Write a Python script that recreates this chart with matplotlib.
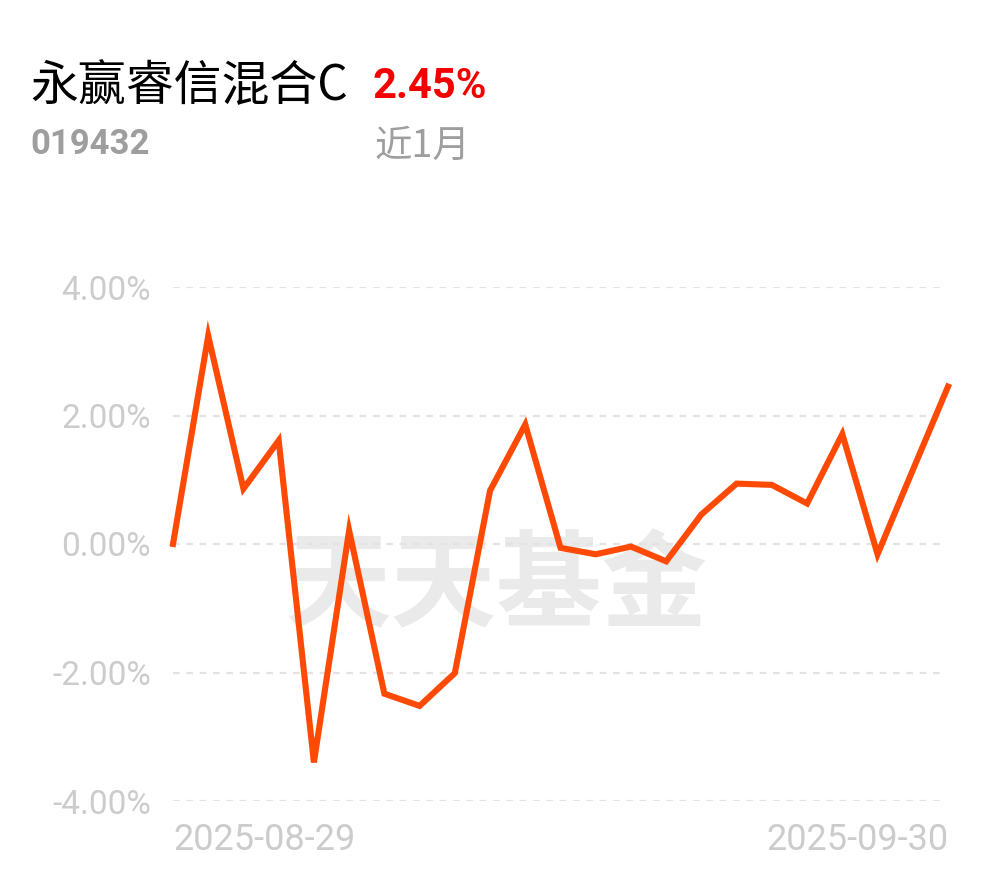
import matplotlib
matplotlib.use("Agg")
import matplotlib.pyplot as plt

# ---- data ----
dates = ["2025-08-29", "2025-09-01", "2025-09-02", "2025-09-03", "2025-09-04", "2025-09-05",
         "2025-09-08", "2025-09-09", "2025-09-10", "2025-09-11", "2025-09-12",
         "2025-09-15", "2025-09-16", "2025-09-17", "2025-09-18", "2025-09-19",
         "2025-09-22", "2025-09-23", "2025-09-24", "2025-09-25", "2025-09-26",
         "2025-09-29", "2025-09-30"]
returns = [0.00, 3.24, 0.86, 1.61, -3.40, 0.21, -2.33, -2.52, -2.01, 0.83, 1.86,
           -0.06, -0.16, -0.04, -0.27, 0.46, 0.94, 0.92, 0.63, 1.71, -0.16, 1.15, 2.45]
y_ticks = [4, 2, 0, -2, -4]
y_labels = ["4.00%", "2.00%", "0.00%", "-2.00%", "-4.00%"]
fund_name = "永赢睿信混合C"
fund_code = "019432"
period_return = "2.45%"
period_label = "近1月"

W, H = 994, 876
fig = plt.figure(figsize=(W / 100, H / 100), dpi=100)
fig.patch.set_facecolor("white")

ax = fig.add_axes([173 / W, 1 - 801 / H, (948 - 173) / W, (801 - 287) / H])
x = list(range(len(returns)))
ax.set_xlim(0, len(returns) - 1)
ax.set_ylim(-4, 4)

for t in y_ticks:
    ax.axhline(t, color="#e3e3e3", lw=1.6, ls=(0, (3, 3)), zorder=1, xmax=0.998)
ax.set_yticks(y_ticks)
ax.set_yticklabels(y_labels)
ax.tick_params(axis="y", length=0, pad=16, labelsize=24, labelcolor="#cccccc")
for lab in ax.get_yticklabels():
    lab.set_family("Roboto")

# watermark (behind the line)
ax.text(497 / W, 1 - 588 / H, "天天基金", ha="center", va="center", fontsize=76,
        color="#eaeaea", family=["Noto Sans CJK SC"], fontweight="bold", zorder=0,
        transform=fig.transFigure)

ax.plot(x, returns, color="#ff4a05", lw=4.4, solid_joinstyle="miter", zorder=3, clip_on=False)

for s in ax.spines.values():
    s.set_visible(False)
ax.set_xticks([])
ax.patch.set_alpha(0)

fig.text(173 / W, 1 - 840 / H, dates[0], ha="left", va="center", fontsize=26,
         color="#cccccc", family="Roboto")
fig.text(948 / W, 1 - 840 / H, dates[-1], ha="right", va="center", fontsize=26,
         color="#cccccc", family="Roboto")

# header
fig.text(30 / W, 1 - 86 / H, fund_name, ha="left", va="center", fontsize=34.5,
         color="black", family=["Noto Sans CJK SC", "DejaVu Sans"])
fig.text(373 / W, 1 - 86 / H, period_return, ha="left", va="center", fontsize=30,
         color="#f50000", family="Roboto", fontweight="bold")
fig.text(30 / W, 1 - 145 / H, fund_code, ha="left", va="center", fontsize=25,
         color="#9e9e9e", family="Roboto", fontweight="bold")
fig.text(374 / W, 1 - 146 / H, period_label, ha="left", va="center", fontsize=27,
         color="#9e9e9e", family=["Noto Sans CJK SC", "DejaVu Sans"])

fig.savefig("out.png", dpi=100, facecolor="white")
